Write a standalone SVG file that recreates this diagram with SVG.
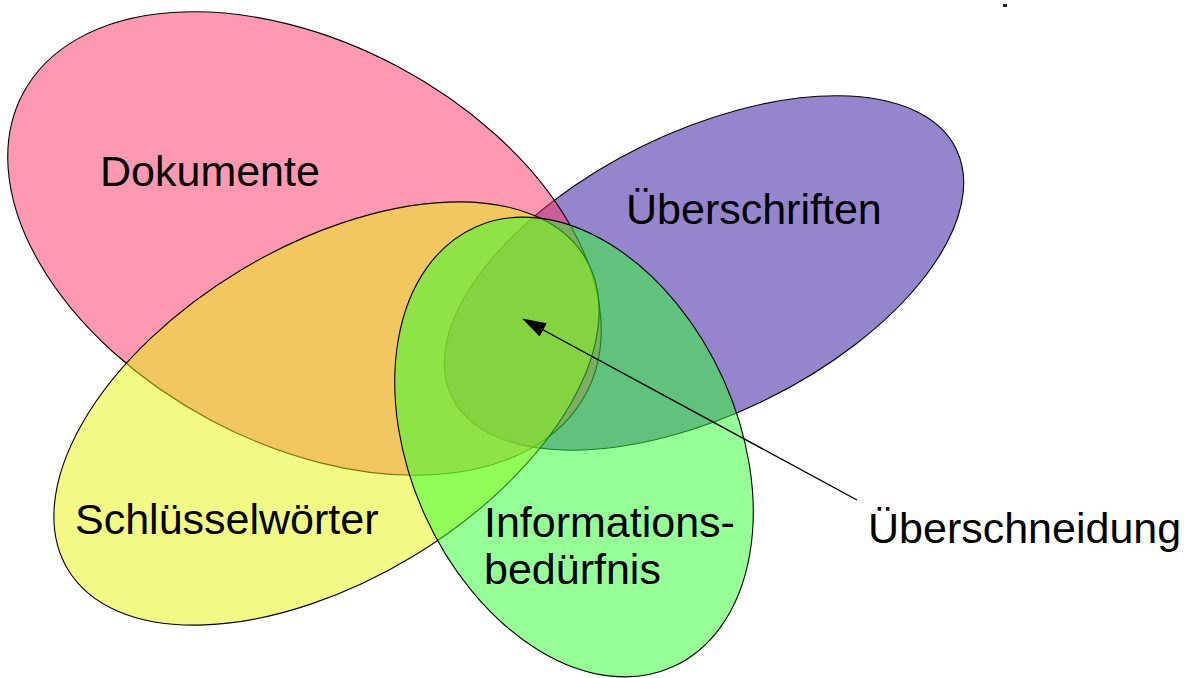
<svg xmlns="http://www.w3.org/2000/svg" width="1193" height="678" viewBox="0 0 1193 678">
  <style>
    .set { stroke: #000; stroke-width: 1.1; fill-opacity: 0.5; }
    .lbl { font-family: "Liberation Sans", Arial, sans-serif; font-size: 43px; fill: #000; }
    .conn { stroke: #000; stroke-width: 1.4; fill: none; }
  </style>
  <defs>
    <marker id="arrowhead" markerUnits="userSpaceOnUse" markerWidth="24" markerHeight="15" viewBox="0 0 24 15" refX="23" refY="7.5" orient="auto">
      <path d="M0,0 L24,7.5 L0,15 z" fill="#000"/>
    </marker>
  </defs>
  <rect x="0" y="0" width="1193" height="678" fill="#fff"/>

  <g id="ueberschriften">
    <ellipse class="set" cx="704" cy="273" rx="281" ry="141" transform="rotate(-26.2 704 273)" fill="#2b0b99"/>
    <text class="lbl" x="626" y="224">Überschriften</text>
  </g>

  <g id="dokumente">
    <ellipse class="set" cx="304.5" cy="243.5" rx="319" ry="200" transform="rotate(28.1 304.5 243.5)" fill="#ff3366"/>
    <text class="lbl" x="100" y="186">Dokumente</text>
  </g>

  <g id="schluesselwoerter">
    <ellipse class="set" cx="326.5" cy="413.5" rx="302" ry="167" transform="rotate(-31.1 326.5 413.5)" fill="#e5f50b"/>
    <text class="lbl" x="75" y="534">Schlüsselwörter</text>
  </g>

  <g id="informationsbeduerfnis">
    <ellipse class="set" cx="574" cy="447" rx="241" ry="164" transform="rotate(65.8 574 447)" fill="#2dff2d"/>
    <text class="lbl" x="484" y="537">Informations-</text>
    <text class="lbl" x="484" y="584">bedürfnis</text>
  </g>

  <g id="ueberschneidung">
    <text class="lbl" x="868" y="543">Überschneidung</text>
  </g>

  <g id="connectors">
    <line class="conn" x1="857" y1="500" x2="523" y2="319" marker-end="url(#arrowhead)"/>
  </g>

  <rect x="1003" y="4" width="4" height="3" fill="#222"/>
</svg>
